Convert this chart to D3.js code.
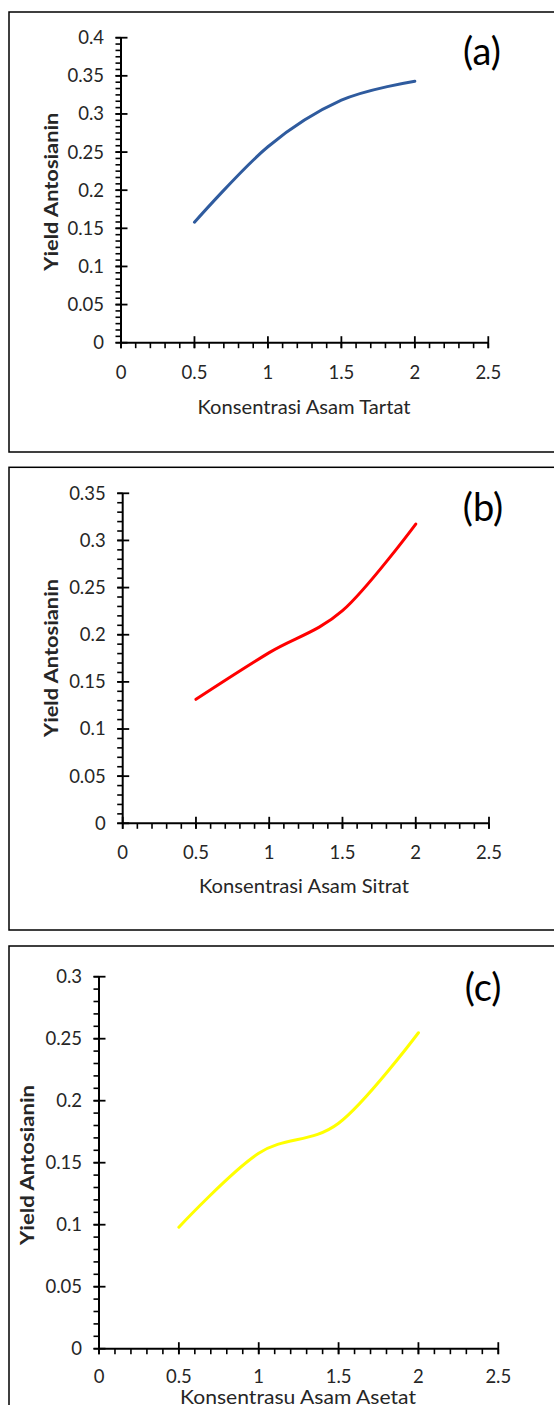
<!DOCTYPE html>
<html><head><meta charset="utf-8">
<script src="https://cdn.jsdelivr.net/npm/d3@7"></script>
<style>body{margin:0;background:#fff}svg{display:block}</style>
</head><body>
<svg id="c" width="554" height="1405"></svg>
<script>
// ---- data ----
const xValues = [0.5, 1, 1.5, 2];
const yieldTartat = [0.158, 0.257, 0.318, 0.343];
const yieldSitrat = [0.1315, 0.181, 0.2255, 0.3174];
const yieldAsetat = [0.098, 0.1576, 0.1818, 0.2548];
const xTicks = [0, 0.5, 1, 1.5, 2, 2.5];
const yTicksA = [0, 0.05, 0.1, 0.15, 0.2, 0.25, 0.3, 0.35, 0.4];
const yTicksB = [0, 0.05, 0.1, 0.15, 0.2, 0.25, 0.3, 0.35];
const yTicksC = [0, 0.05, 0.1, 0.15, 0.2, 0.25, 0.3];
const xTitles = ["Konsentrasi Asam Tartat", "Konsentrasi Asam Sitrat", "Konsentrasu Asam Asetat"];
const yTitle = "Yield Antosianin";
const panelLabels = ["(a)", "(b)", "(c)"];

const svg = d3.select("#c");
const FONT = "Lato, 'Open Sans', sans-serif";

const panels = [
  {vals: yieldTartat, yt: yTicksA, ymax: 0.4, minorY: 6, color: "#2f5b9e",
   frame: [9, 12, 560, 452], x0: 121, x1: 488.3, y0: 342.7, y1: 37.7,
   xt: {x: 304, y: 407, w: 213}, ytl: {x: 51.7, y: 191.7, w: 158}, lab: {x: 482, y: 52}, xlOff: 30},
  {vals: yieldSitrat, yt: yTicksB, ymax: 0.35, minorY: 5, color: "#ff0000",
   frame: [9, 467.3, 560, 930], x0: 122.7, x1: 489, y0: 823.3, y1: 493.3,
   xt: {x: 304, y: 886.7, w: 210}, ytl: {x: 51.7, y: 658, w: 158}, lab: {x: 483, y: 508}, xlOff: 29},
  {vals: yieldAsetat, yt: yTicksC, ymax: 0.3, minorY: 5, color: "#ffff00",
   frame: [9, 946, 560, 1420], x0: 99, x1: 498.3, y0: 1348.7, y1: 976.7,
   xt: {x: 298, y: 1397.5, w: 236}, ytl: {x: 27.3, y: 1165, w: 160}, lab: {x: 483, y: 988}, xlOff: 28}
];

panels.forEach((p, i) => {
  const g = svg.append("g");
  const [fx0, fy0, fx1, fy1] = p.frame;
  g.append("rect").attr("x", fx0).attr("y", fy0).attr("width", fx1 - fx0).attr("height", fy1 - fy0)
    .attr("fill", "none").attr("stroke", "#000").attr("stroke-width", 1.5);

  const x = d3.scaleLinear().domain([0, 2.5]).range([p.x0, p.x1]);
  const y = d3.scaleLinear().domain([0, p.ymax]).range([p.y0, p.y1]);

  // minor ticks x (every 0.1), downward
  const xMinor = d3.range(0, 26).map(k => k / 10);
  g.selectAll(".xm").data(xMinor).join("line")
    .attr("x1", d => x(d)).attr("x2", d => x(d)).attr("y1", p.y0).attr("y2", p.y0 + 5.5)
    .attr("stroke", "#000").attr("stroke-width", 1.6);
  // major x ticks crossing
  g.selectAll(".xM").data(xTicks).join("line")
    .attr("x1", d => x(d)).attr("x2", d => x(d)).attr("y1", p.y0 - 6.5).attr("y2", p.y0 + 5.5)
    .attr("stroke", "#000").attr("stroke-width", 1.8);
  // minor y ticks, leftward
  const step = 0.05 / p.minorY;
  const nY = Math.round(p.ymax / step);
  const yMinor = d3.range(0, nY + 1).map(k => k * step);
  g.selectAll(".ym").data(yMinor).join("line")
    .attr("x1", p.x0 - 5.5).attr("x2", p.x0).attr("y1", d => y(d)).attr("y2", d => y(d))
    .attr("stroke", "#000").attr("stroke-width", 1.6);
  g.selectAll(".yM").data(p.yt).join("line")
    .attr("x1", p.x0 - 5.5).attr("x2", p.x0 + 6.5).attr("y1", d => y(d)).attr("y2", d => y(d))
    .attr("stroke", "#000").attr("stroke-width", 1.8);
  // axis lines
  g.append("line").attr("x1", p.x0).attr("x2", p.x0).attr("y1", p.y1).attr("y2", p.y0)
    .attr("stroke", "#000").attr("stroke-width", 2);
  g.append("line").attr("x1", p.x0).attr("x2", p.x1).attr("y1", p.y0).attr("y2", p.y0)
    .attr("stroke", "#000").attr("stroke-width", 2);

  // tick labels
  g.selectAll(".yl").data(p.yt).join("text")
    .attr("x", p.x0 - 17).attr("y", d => y(d)).attr("dy", "0.35em")
    .attr("text-anchor", "end").attr("font-family", FONT).attr("font-size", 18.5).attr("fill", "#262626")
    .text(d => String(d));
  g.selectAll(".xl").data(xTicks).join("text")
    .attr("x", d => x(d)).attr("y", p.y0 + p.xlOff).attr("dy", "0.35em")
    .attr("text-anchor", "middle").attr("font-family", FONT).attr("font-size", 18.5).attr("fill", "#262626")
    .text(d => String(d));

  // titles
  g.append("text").attr("x", p.xt.x).attr("y", p.xt.y).attr("dy", "0.35em")
    .attr("text-anchor", "middle").attr("font-family", FONT).attr("font-size", 19).attr("fill", "#262626")
    .attr("textLength", p.xt.w).attr("lengthAdjust", "spacingAndGlyphs")
    .text(xTitles[i]);
  g.append("text").attr("transform", `translate(${p.ytl.x},${p.ytl.y}) rotate(-90)`).attr("dy", "0.35em")
    .attr("text-anchor", "middle").attr("font-family", FONT).attr("font-size", 19).attr("font-weight", "bold")
    .attr("fill", "#262626").attr("textLength", p.ytl.w).attr("lengthAdjust", "spacingAndGlyphs")
    .text(yTitle);
  g.append("text").attr("x", p.lab.x).attr("y", p.lab.y).attr("dy", "0.35em")
    .attr("text-anchor", "middle").attr("font-family", FONT).attr("font-size", 38).attr("fill", "#000")
    .text(panelLabels[i]);

  // line
  const line = d3.line().x((d, k) => x(xValues[k])).y(d => y(d)).curve(d3.curveCardinal.tension(0));
  g.append("path").datum(p.vals).attr("d", line).attr("fill", "none")
    .attr("stroke", p.color).attr("stroke-width", 3).attr("stroke-linecap", "round");
});
</script>
</body></html>
